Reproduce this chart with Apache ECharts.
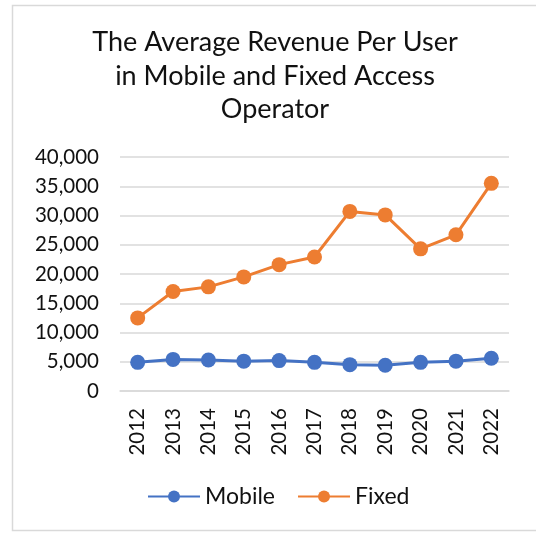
<!DOCTYPE html>
<html><head><meta charset="utf-8">
<script src="https://cdn.jsdelivr.net/npm/echarts@6/dist/echarts.min.js"></script>
<style>html,body{margin:0;padding:0;background:#fff}#c{width:536px;height:533px}</style>
</head><body><div id="c"></div>
<script>
const years = ['2012','2013','2014','2015','2016','2017','2018','2019','2020','2021','2022'];
const mobile = [4900, 5400, 5300, 5100, 5200, 4900, 4500, 4400, 4900, 5100, 5600];
const fixed = [12500, 17000, 17800, 19500, 21600, 22900, 30700, 30100, 24300, 26700, 35500];
const yTicks = [0, 5000, 10000, 15000, 20000, 25000, 30000, 35000, 40000];
const titleText = 'The Average Revenue Per User\nin Mobile and Fixed Access\nOperator';
const FONT = 'Lato';
const chart = echarts.init(document.getElementById('c'));
chart.setOption({
  animation: false,
  backgroundColor: '#fff',
  graphic: [{type:'rect', shape:{x:12.5,y:5.5,width:540,height:525}, style:{fill:'none', stroke:'#d9d9d9', lineWidth:1.5}, silent:true}],
  title: {text: titleText, left: 270, top: 21, textAlign: 'center',
    textStyle: {fontFamily: FONT, fontWeight: 'normal', fontSize: 27, lineHeight: 33.5, color: '#111'}},
  legend: {top: 480, left: 142, itemWidth: 52, itemHeight: 15, itemGap: 22,
    textStyle: {fontFamily: FONT, fontSize: 23, color: '#111'}},
  grid: {left: 120, right: 27, top: 157, bottom: 142},
  xAxis: {type: 'category', data: years, boundaryGap: true,
    axisLine: {show: true, lineStyle: {color: '#d9d9d9', width: 1.5}},
    axisTick: {show: false},
    axisLabel: {rotate: 90, fontFamily: FONT, fontSize: 20.5, color: '#111', margin: 17}},
  yAxis: {type: 'value', min: yTicks[0], max: yTicks[yTicks.length-1], interval: 5000,
    axisLine: {show: false}, axisTick: {show: false},
    splitLine: {lineStyle: {color: '#d9d9d9', width: 1.5}},
    axisLabel: {fontFamily: FONT, fontSize: 20.5, color: '#111', margin: 21,
      formatter: v => v.toLocaleString('en-US')}},
  series: [
    {name: 'Mobile', type: 'line', data: mobile, symbol: 'circle', symbolSize: 15,
     itemStyle: {color: '#4472C4'}, lineStyle: {color: '#4472C4', width: 3}},
    {name: 'Fixed', type: 'line', data: fixed, symbol: 'circle', symbolSize: 15,
     itemStyle: {color: '#ED7D31'}, lineStyle: {color: '#ED7D31', width: 3}}
  ]
});
</script></body></html>
